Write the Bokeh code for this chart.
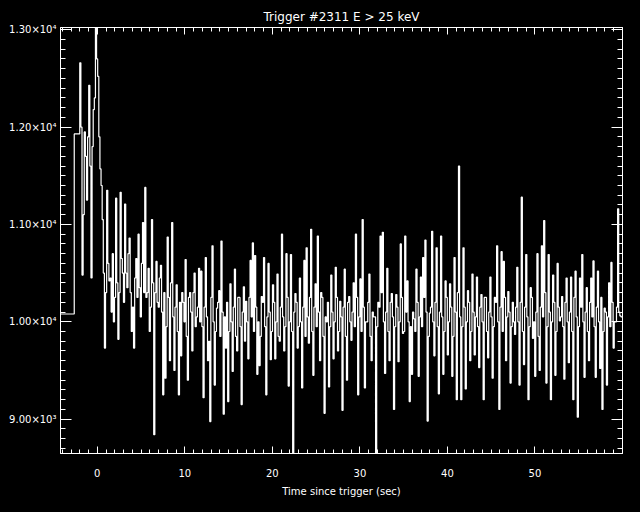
import numpy as np
from bokeh.plotting import figure
from bokeh.models import Range1d, LinearAxis, FixedTicker, GlobalInlineStyleSheet
from bokeh.embed import file_html
from bokeh.resources import INLINE

# ---------------- data ----------------
title_text = "Trigger #2311 E > 25 keV"
x_label = "Time since trigger (sec)"

# two coarse pre-trigger bins: left edges and counts/sec
pre_edges = [-4.35, -2.63]
pre_counts = [10080, 11930]

# fine-resolution bins (0.128 s) start here; values come in pairs:
# an excursion value (peaks / dips) followed by a value in the dense core band
fine_start = -2.0
fine_width = 0.128
excursion = [
    12660, 10480, 11950, 11250, 12430, 10450, 12180, 13050, 12520, 11570,
    11050, 9730, 11350, 10420, 10100, 10000, 11270, 9820, 11330, 10500,
    11210, 10350, 10860, 9900, 9730, 10650, 10900, 10050, 11020, 11380,
    10300, 9900, 11050, 8840, 10620, 10150, 10580, 9250, 9420, 10870,
    9600, 11020, 9500, 10380, 9250, 9650, 10200, 10640, 9400, 10300,
    9700, 10500, 10050, 10550, 10520, 9220, 10660, 9600, 8975, 10780,
    9350, 10140, 10320, 10830, 9050, 9730, 9180, 10390, 9490, 10540,
    9700, 10250, 9150, 10360, 10210, 9620, 10630, 10810, 10680, 9460,
    9550, 10260, 10660, 9250, 10600, 9610, 10380, 9620, 10490, 9800,
    10900, 9700, 10700, 9340, 10690, 8650, 10290, 9730, 10450, 9320,
    10630, 10760, 9780, 10950, 9450, 10390, 10880, 9600, 10250, 9060,
    10000, 9330, 10480, 9620, 10560, 9700, 10210, 9090, 10540, 9400,
    10260, 9810, 10400, 10900, 9250, 10440, 11050, 9320, 10000, 10490,
    9600, 10050, 8650, 10200, 10880, 10920, 9470, 10550, 9600, 10290,
    9100, 10280, 9590, 10800, 9880, 10880, 10420, 9180, 9460, 10030,
    10540, 9440, 10460, 10660, 10840, 8980, 10090, 10930, 9650, 10760,
    9260, 10880, 9460, 10420, 9660, 10390, 9440, 10660, 9200, 11600,
    9200, 10760, 9310, 10320, 9600, 10490, 9660, 10460, 9530, 10280,
    9200, 10250, 9630, 10460, 9420, 10250, 10780, 9100, 10720, 10620,
    9600, 10310, 9370, 10200, 9870, 10560, 9350, 11280, 9560, 10690,
    9200, 10350, 9830, 9440, 10700, 9500, 10780, 11040, 9370, 10690,
    9200, 10480, 9450, 10600, 10010, 10260, 9410, 10450, 9580, 10460,
    9200, 10520, 9020, 10450, 10690, 9430, 10350, 9600, 10450, 10625,
    9430, 10520, 9520, 9100, 10140, 9350, 10400, 10610, 9730, 10000,
    11160, 10060,
]
core = [
    12000, 11100, 11700, 11900, 11600, 11800, 12300, 12700, 11900, 11400,
    10500, 10300, 10600, 10450, 10700, 10250,
    10400, 10300, 10650, 10200, 10500, 10700, 10300, 10150, 10450, 10250,
    10350, 10600, 10300, 10250, 10550, 10150, 10400, 10300, 10200, 10450,
    10100, 10300, 9950, 10250, 10400, 10050, 10150, 9900, 10200, 10300,
    10000, 9850, 10250, 10100, 10300, 9950, 10150, 10000,
    9950, 10150, 10050, 9800, 10250, 10000, 9900, 10200, 9850, 10100,
    10050, 10200, 9900, 10000, 10150, 9850, 10250, 9950, 10100, 9800,
    10000, 10250, 10050, 9900, 10150, 10000, 9850, 10200, 9950, 10050,
    10100, 9900, 10200, 10000, 9850, 10150, 10050, 9950, 10250, 10000,
    9900, 10100, 10200, 9950, 10000, 10150, 9850,
    10050, 10250, 9900, 10150, 9950, 10100, 10300, 9850, 10050, 10200,
    9950, 10100, 10000, 10250, 9900, 10050, 10150, 9850, 10200, 10000,
    10100, 9950, 10250, 10050, 9900, 10150, 10000, 10200, 9850, 10100,
    10050, 9950, 10150, 10300, 10000, 10100, 9900, 10200, 10050, 9950,
    10150, 10000, 10250, 9900, 10100, 10000, 9950,
    10100, 9900, 10200, 10050, 9950, 10250, 10100, 9850, 10150, 10000,
    10200, 9950, 10100, 10050, 9900, 10250, 10000, 10150, 9850, 10100,
    10300, 10050, 9950, 10150, 10000, 10200, 9900, 10100, 10050, 9950,
    10150, 10000, 10250, 9900, 10100, 10050, 9950, 10200, 10000, 10150,
    9900, 10250, 10050, 10100, 9950, 10000, 10150,
    10000, 10200, 9900, 10150, 10050, 9950, 10250, 10000, 10100, 9850,
    10150, 10050, 10300, 9950, 10100, 10000, 10200, 9900, 10150, 10050,
    9950, 10200, 10000, 10100, 9900, 10250, 10050, 9950, 10150, 10000,
    10100, 9900, 10200, 10050, 9950, 10150, 10000, 10250, 9900, 10100,
    10050, 9950, 10200, 10000, 10150, 10100, 10050,
]

x_major = [0, 10, 20, 30, 40, 50]
x_minor = list(range(-4, 61))
y_major = [9000, 10000, 11000, 12000, 13000]
y_major_labels = ["9.00×10³", "1.00×10⁴", "1.10×10⁴", "1.20×10⁴", "1.30×10⁴"]
y_minor = list(range(8700, 13001, 100))

# ---------------- build step path ----------------
fine_vals = np.column_stack([np.array(excursion, float), np.array(core, float)]).ravel()
edges = np.concatenate([np.array(pre_edges, dtype=float),
                        fine_start + fine_width * np.arange(len(fine_vals) + 1)])
vals = np.concatenate([np.array(pre_counts, float), fine_vals])
xs = np.repeat(edges, 2)[1:-1]
ys = np.repeat(vals, 2)

FONT = "DejaVu Sans"
WHITE = "#ffffff"

p = figure(width=640, height=512, title=title_text,
           x_range=Range1d(-4.2, 60.0), y_range=Range1d(8647, 13023),
           output_backend="svg", toolbar_location=None,
           background_fill_color="black", border_fill_color="black",
           min_border_left=60, min_border_right=18,
           min_border_top=27, min_border_bottom=59,
           x_axis_location=None, y_axis_location=None)
p.title.align = "center"
p.title.text_color = WHITE
p.title.text_font = FONT
p.title.text_font_size = "12px"
p.title.text_font_style = "normal"
p.title.standoff = 8
p.title.offset = 0
p.xgrid.visible = False
p.ygrid.visible = False
p.outline_line_color = WHITE
p.stylesheets = [GlobalInlineStyleSheet(css="html, body { background-color: #000000; }")]

p.line(xs, ys, line_color=WHITE, line_width=1.2)

xt = FixedTicker(ticks=x_major, minor_ticks=x_minor)
yt = FixedTicker(ticks=y_major, minor_ticks=y_minor)


def style(ax, major_len, minor_len, labels=True):
    ax.axis_line_color = WHITE
    ax.major_tick_line_color = WHITE
    ax.minor_tick_line_color = WHITE
    ax.major_tick_in = major_len
    ax.major_tick_out = 0
    ax.minor_tick_in = minor_len
    ax.minor_tick_out = 0
    if labels:
        ax.major_label_text_color = WHITE
        ax.major_label_text_font = FONT
        ax.major_label_text_font_size = "10px"
    else:
        ax.major_label_text_color = None
        ax.major_label_text_font_size = "1px"
        ax.major_label_standoff = 0


bottom = LinearAxis(ticker=xt, axis_label=x_label)
style(bottom, 7, 4)
bottom.major_label_standoff = 15
bottom.axis_label_text_color = WHITE
bottom.axis_label_text_font = FONT
bottom.axis_label_text_font_size = "10px"
bottom.axis_label_text_font_style = "normal"
bottom.axis_label_standoff = 6
p.add_layout(bottom, "below")

top = LinearAxis(ticker=xt)
style(top, 7, 4, labels=False)
p.add_layout(top, "above")

left = LinearAxis(ticker=yt)
style(left, 11, 5)
left.major_label_standoff = 4
left.major_label_overrides = {v: s for v, s in zip(y_major, y_major_labels)}
p.add_layout(left, "left")

right = LinearAxis(ticker=yt)
style(right, 11, 5, labels=False)
p.add_layout(right, "right")

open("out.html", "w").write(file_html(p, INLINE))
